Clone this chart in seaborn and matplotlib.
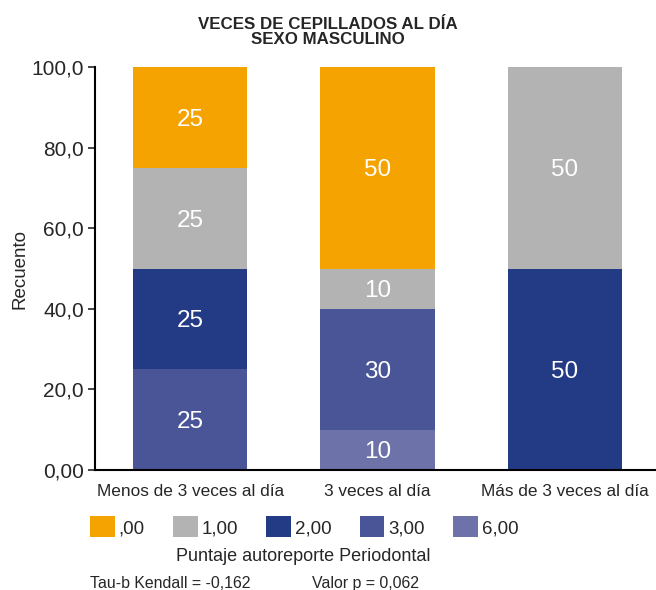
import numpy as np
import pandas as pd
import matplotlib
matplotlib.use("Agg")
import matplotlib.pyplot as plt
import seaborn as sns
from matplotlib.patches import Patch

sns.set_style("ticks")
plt.rcParams['font.family'] = ['Liberation Sans', 'DejaVu Sans']

categorias = ["Menos de 3 veces al día", "3 veces al día", "Más de 3 veces al día"]
# stack order bottom -> top
puntajes = ["6,00", "3,00", "2,00", "1,00", ",00"]
valores = {
    "6,00": [0, 10, 0],
    "3,00": [25, 30, 0],
    "2,00": [25, 0, 50],
    "1,00": [25, 10, 50],
    ",00": [25, 50, 0],
}
colores = {
    ",00": "#F5A300",
    "1,00": "#B3B3B3",
    "2,00": "#233A85",
    "3,00": "#4A5597",
    "6,00": "#6D72A8",
}
yticks = [0, 20, 40, 60, 80, 100]
ytick_labels = ["0,00", "20,0", "40,0", "60,0", "80,0", "100,0"]

rows = []
for cat_i, cat in enumerate(categorias):
    acum = 0
    for p in puntajes:
        v = valores[p][cat_i]
        rows.append({"categoria": cat, "idx": cat_i, "puntaje": p, "valor": v,
                     "base": acum, "top": acum + v})
        acum += v
df = pd.DataFrame(rows)

fig = plt.figure(figsize=(6.56, 5.9), dpi=100)
ax = fig.add_axes([0.145, 0.2034, 0.853, 0.683])

# draw cumulative layers from top of stack downwards
for p in reversed(puntajes):
    d = df[df.puntaje == p]
    sns.barplot(data=d, x="categoria", y="top", order=categorias, color=colores[p],
                width=0.61, saturation=1, ax=ax, linewidth=0)

for _, r in df.iterrows():
    if r["valor"] > 0:
        ax.text(r["idx"], r["base"] + r["valor"] / 2, str(int(r["valor"])),
                ha="center", va="center_baseline", color="white", fontsize=17.5)

ax.set_xlim(-0.507, 2.48)
ax.set_ylim(0, 100)
ax.set_yticks(yticks)
ax.set_yticklabels(ytick_labels, fontsize=15)
ax.tick_params(axis="x", length=0, labelsize=12.4, pad=10)
ax.tick_params(axis="y", length=5, width=1.2, pad=3)
ax.set_xlabel("")
ax.set_ylabel("Recuento", fontsize=13.5, labelpad=2)
sns.despine(ax=ax)
for s in ["left", "bottom"]:
    ax.spines[s].set_linewidth(1.5)
    ax.spines[s].set_color("black")

fig.text(0.5, 0.946, "VECES DE CEPILLADOS AL DÍA\nSEXO MASCULINO", ha="center", va="center",
         fontsize=12.2, fontweight="bold", linespacing=1.0)

handles = [Patch(facecolor=colores[p], edgecolor="none") for p in [",00", "1,00", "2,00", "3,00", "6,00"]]
fig.legend(handles, [",00", "1,00", "2,00", "3,00", "6,00"], ncol=5, frameon=False,
           loc="center left", bbox_to_anchor=(0.137, 0.107), fontsize=13.5,
           handlelength=1.33, handleheight=1.33, handletextpad=0.2, columnspacing=1.5,
           borderaxespad=0, borderpad=0)
fig.text(0.462, 0.056, "Puntaje autoreporte Periodontal", ha="center", va="center", fontsize=13)
fig.text(0.137, 0.011, "Tau-b Kendall = -0,162", ha="left", va="center", fontsize=11.4)
fig.text(0.476, 0.011, "Valor p = 0,062", ha="left", va="center", fontsize=11.4)

fig.savefig("out.png", dpi=100)
